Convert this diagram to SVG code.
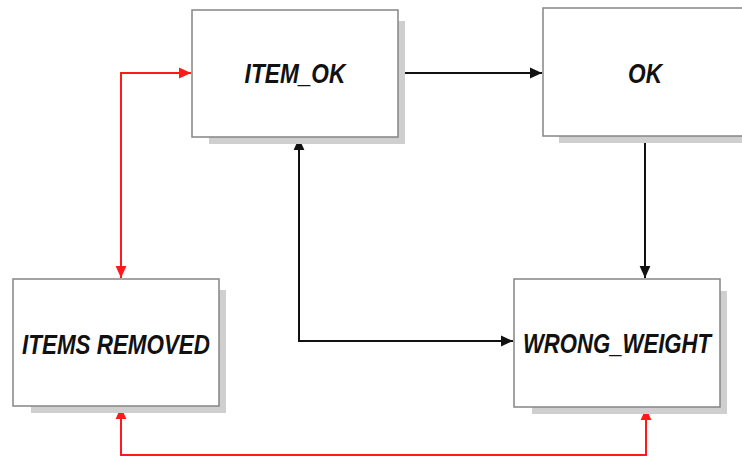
<svg xmlns="http://www.w3.org/2000/svg" width="742" height="458" viewBox="0 0 742 458">
<style>
.shadow{fill:#cfcfcf;stroke:none}
.box{fill:#ffffff;stroke:#858585;stroke-width:1.5}
.lbl{font-family:"Liberation Sans",Arial,sans-serif;font-weight:bold;font-style:italic;font-size:27px;fill:#111111;text-anchor:middle}
.blk{fill:none;stroke:#111111;stroke-width:2}
.red{fill:none;stroke:#ff1a1a;stroke-width:2}
</style>
<defs>
<marker id="ab" viewBox="0 0 10 10" refX="10" refY="5" markerWidth="12" markerHeight="12" markerUnits="userSpaceOnUse" orient="auto-start-reverse">
<path d="M0,0.5 L10,5 L0,9.5 Z" fill="#111111"/>
</marker>
<marker id="ar" viewBox="0 0 10 10" refX="10" refY="5" markerWidth="12" markerHeight="12" markerUnits="userSpaceOnUse" orient="auto-start-reverse">
<path d="M0,0.5 L10,5 L0,9.5 Z" fill="#ff1a1a"/>
</marker>
</defs>
<g id="connectors">
<path class="blk" d="M399,73 H542" marker-end="url(#ab)"/>
<path class="blk" d="M645,136 V278" marker-end="url(#ab)"/>
<path class="blk" d="M299,138 V341 H513" marker-start="url(#ab)" marker-end="url(#ab)"/>
<path class="red" d="M191,73 H121 V278" marker-start="url(#ar)" marker-end="url(#ar)"/>
<path class="red" d="M121,407 V455 H646 V408" marker-start="url(#ar)" marker-end="url(#ar)"/>
</g>
<g id="item_ok">
<rect class="shadow" x="209" y="21" width="196" height="123"/>
<rect class="box" x="192" y="10" width="206" height="127"/>
<text class="lbl" transform="translate(295,83) scale(0.84,1)">ITEM_OK</text>
</g>
<g id="ok">
<rect class="shadow" x="559" y="19" width="190" height="124"/>
<rect class="box" x="543" y="8" width="206" height="128"/>
<text class="lbl" transform="translate(645,83) scale(0.84,1)">OK</text>
</g>
<g id="items_removed">
<rect class="shadow" x="31" y="290" width="195" height="123"/>
<rect class="box" x="13" y="279" width="206" height="127"/>
<text class="lbl" transform="translate(116,354) scale(0.83,1)">ITEMS REMOVED</text>
</g>
<g id="wrong_weight">
<rect class="shadow" x="532" y="291" width="195" height="123"/>
<rect class="box" x="514" y="279" width="206" height="128"/>
<text class="lbl" transform="translate(617,353) scale(0.82,1)">WRONG_WEIGHT</text>
</g>
</svg>
